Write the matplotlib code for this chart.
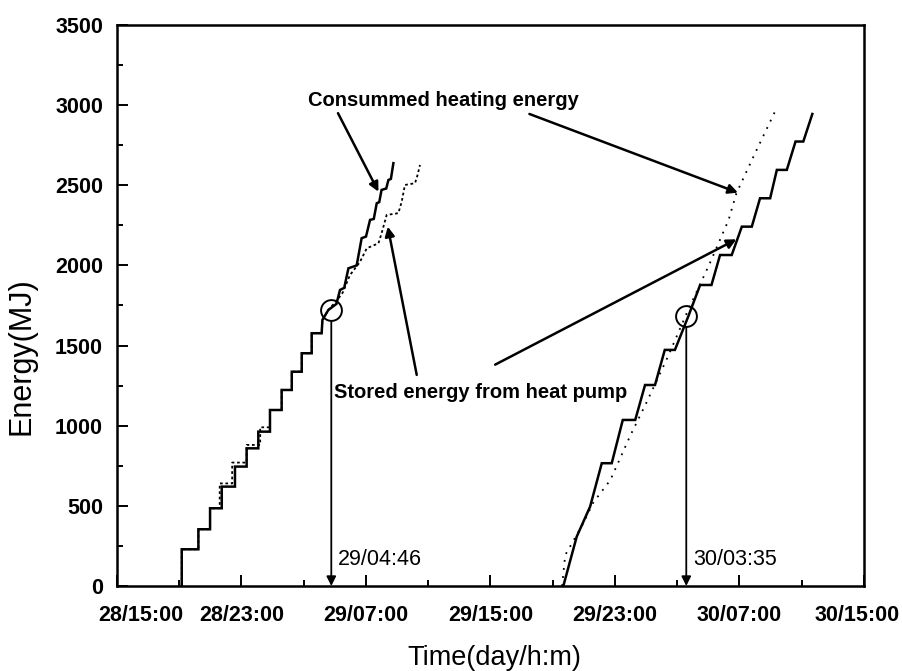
import matplotlib
matplotlib.use("Agg")
import matplotlib.pyplot as plt
from matplotlib.ticker import MultipleLocator
from matplotlib.transforms import ScaledTranslation

plt.rcParams['font.family'] = ['Liberation Sans', 'DejaVu Sans']

# ---- data (hours after 28/15:00, energy in MJ) ----
tick_labels = ["28/15:00", "28/23:00", "29/07:00", "29/15:00",
               "29/23:00", "30/07:00", "30/15:00"]

# first period: consumed heating energy (solid)
cons1_t = [4.16, 4.16, 5.23, 5.23, 5.98, 5.98, 6.73, 6.73, 7.58, 7.58, 8.33, 8.33,
           9.08, 9.08, 9.83, 9.83, 10.58, 10.58, 11.23, 11.23, 11.87, 11.87, 12.51,
           12.51, 13.15, 13.2, 13.58, 14.1, 14.33, 14.6, 14.87, 15.4, 15.72, 16.0,
           16.26, 16.5, 16.69, 16.85, 17.0, 17.3, 17.44, 17.6, 17.76]
cons1_e = [0, 229, 229, 354, 354, 485, 485, 620, 620, 745, 745, 859,
           859, 963, 963, 1098, 1098, 1223, 1223, 1337, 1337, 1452, 1452,
           1577, 1577, 1660, 1722, 1760, 1847, 1860, 1982, 2000, 2170, 2180,
           2284, 2290, 2388, 2395, 2471, 2480, 2533, 2540, 2638]

# first period: stored energy from heat pump (dotted)
stor1_t = [4.16, 4.16, 5.23, 5.23, 5.98, 5.98, 6.6, 6.6, 7.4, 7.4, 8.33, 8.33,
           9.2, 9.2, 9.83, 9.83, 10.58, 10.58, 11.23, 11.23, 11.87, 11.87, 12.51,
           12.51, 13.15, 13.2, 13.58, 14.2, 14.5, 14.97, 15.6, 16.05, 16.8, 17.0,
           17.33, 18.08, 18.3, 18.5, 19.15, 19.3, 19.47]
stor1_e = [0, 229, 229, 354, 354, 485, 485, 640, 640, 770, 770, 880,
           880, 990, 990, 1098, 1098, 1223, 1223, 1337, 1337, 1452, 1452,
           1577, 1577, 1660, 1722, 1790, 1830, 1940, 2020, 2107, 2138, 2200,
           2315, 2326, 2400, 2502, 2513, 2560, 2627]

# second period: consumed heating energy (solid)
cons2_t = [28.68, 29.54, 30.4, 31.15, 31.79, 32.5, 33.3, 33.93, 34.57, 35.2,
           35.85, 36.7, 37.47, 38.2, 38.75, 39.5, 40.15, 40.79, 41.32, 41.97,
           42.4, 43.04, 43.6, 44.1, 44.68]
cons2_e = [0, 308, 495, 766, 766, 1036, 1036, 1254, 1254, 1473,
           1473, 1680, 1878, 1878, 2065, 2065, 2242, 2242, 2419, 2419,
           2596, 2596, 2773, 2773, 2945]

# second period: stored energy from heat pump (dotted)
stor2_t = [28.6, 28.8, 29.9, 30.6, 31.7, 33.0, 34.0, 35.4, 36.6, 38.1, 39.3,
           39.8, 41.0, 42.33]
stor2_e = [0, 193, 380, 520, 661, 942, 1140, 1431, 1700, 2015, 2284,
           2450, 2700, 2970]

# marked instants (29/04:46 and 30/03:35)
mark_t = [13.77, 36.58]
mark_e = [1722, 1687]
mark_labels = ["29/04:46", "30/03:35"]

# ---- figure ----
fig = plt.figure(figsize=(9.03, 6.71), dpi=100)
ax = fig.add_axes([117 / 903, 1 - 586 / 671, (864 - 117) / 903, (586 - 25) / 671])

ax.plot(cons1_t, cons1_e, color='black', lw=1.8, solid_joinstyle='miter')
ax.plot(stor1_t, stor1_e, color='black', lw=1.3, linestyle=(0, (1.5, 1.5)))
ax.plot(cons2_t, cons2_e, color='black', lw=1.8, solid_joinstyle='miter')
ax.plot(stor2_t, stor2_e, color='black', lw=1.3, linestyle=(0, (1, 3.5)))

ax.plot(mark_t, mark_e, linestyle='none', marker='o', ms=15, mfc='none',
        mec='black', mew=1.4)

for t, e, lab in zip(mark_t, mark_e, mark_labels):
    ax.annotate("", xy=(t, 0), xytext=(t, e - 75),
                arrowprops=dict(arrowstyle='-|>', color='black', lw=1.3,
                                mutation_scale=14, shrinkA=0, shrinkB=0))
    ax.text(t + 0.45, 165, lab, fontsize=15.5, ha='left', va='center')

# text annotations
ax.text(21.0, 3030, "Consummed heating energy", fontsize=14.5,
        fontweight='bold', ha='center', va='center')
ax.annotate("", xy=(16.8, 2460), xytext=(14.2, 2950),
            arrowprops=dict(arrowstyle='-|>', color='black', lw=1.8,
                            mutation_scale=14, shrinkA=0, shrinkB=0))
ax.annotate("", xy=(39.9, 2454), xytext=(26.5, 2945),
            arrowprops=dict(arrowstyle='-|>', color='black', lw=1.8,
                            mutation_scale=14, shrinkA=0, shrinkB=0))

ax.text(13.95, 1210, "Stored energy from heat pump", fontsize=14.5,
        fontweight='bold', ha='left', va='center')
ax.annotate("", xy=(17.4, 2242), xytext=(19.26, 1317),
            arrowprops=dict(arrowstyle='-|>', color='black', lw=1.8,
                            mutation_scale=14, shrinkA=0, shrinkB=0))
ax.annotate("", xy=(39.8, 2163), xytext=(24.3, 1381),
            arrowprops=dict(arrowstyle='-|>', color='black', lw=1.8,
                            mutation_scale=14, shrinkA=0, shrinkB=0))

# axes
ax.set_xlim(0, 48)
ax.set_ylim(0, 3500)
ax.set_xticks(range(0, 49, 8))
ax.set_xticklabels(tick_labels)
ax.xaxis.set_minor_locator(MultipleLocator(4))
ax.yaxis.set_major_locator(MultipleLocator(500))
ax.yaxis.set_minor_locator(MultipleLocator(250))
ax.tick_params(which='both', direction='in', width=1.4, top=False, right=False)
ax.tick_params(which='major', length=8, labelsize=15.5)
ax.tick_params(axis='x', which='major', pad=14)
ax.tick_params(axis='y', which='major', pad=10)
ax.tick_params(which='minor', length=4.5)
for lab in ax.get_xticklabels() + ax.get_yticklabels():
    lab.set_fontweight('bold')
for sp in ax.spines.values():
    sp.set_linewidth(1.8)

xl = ax.get_xticklabels()
xl[0].set_transform(xl[0].get_transform() + ScaledTranslation(24 / 100, 0, fig.dpi_scale_trans))
xl[-1].set_transform(xl[-1].get_transform() + ScaledTranslation(-7 / 100, 0, fig.dpi_scale_trans))

ax.set_xlabel("Time(day/h:m)", fontsize=19.5)
ax.set_ylabel("Energy(MJ)", fontsize=22)
ax.xaxis.set_label_coords(0.505, -0.105)
ax.yaxis.set_label_coords(-0.108, 0.41)

fig.savefig("out.png", dpi=100)
